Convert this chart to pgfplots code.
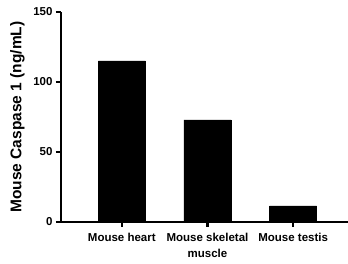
\documentclass[border=0pt]{standalone}
\usepackage{fontspec}
\setmainfont{Liberation Sans}
\usepackage{pgfplots}
\pgfplotsset{compat=1.18}
\begin{document}
\begin{tikzpicture}[x=1pt,y=1pt]
\useasboundingbox (-61,-42) rectangle (287,222);
\begin{axis}[
  at={(0,0)}, anchor=south west,
  scale only axis, width=287pt, height=210pt,
  ybar, bar width=47pt,
  xmin=-0.71, xmax=2.64, ymin=0, ymax=150,
  axis x line*=bottom, axis y line*=left,
  axis line style={line width=2.2pt},
  major tick style={line width=2.2pt, black},
  tick align=outside, major tick length=5pt,
  xtick=data,
  xticklabels={Mouse heart, Mouse skeletal\\muscle, Mouse testis},
  xticklabel style={align=center, font=\fontsize{11.5}{15.5}\selectfont\bfseries, yshift=-3pt},
  ytick={0,50,100,150},
  yticklabel style={font=\fontsize{11.5}{12}\selectfont\bfseries},
  /pgf/number format/assume math mode=true,
  ylabel={Mouse Caspase 1 (ng/mL)},
  ylabel style={font=\fontsize{15.5}{16}\selectfont\bfseries, at={(axis description cs:0,0.5)}, anchor=center, yshift=43.5pt},
]
\addplot[fill=black, draw=black] coordinates {(0,115) (1,73) (2,11.5)};
\end{axis}
\end{tikzpicture}
\end{document}
